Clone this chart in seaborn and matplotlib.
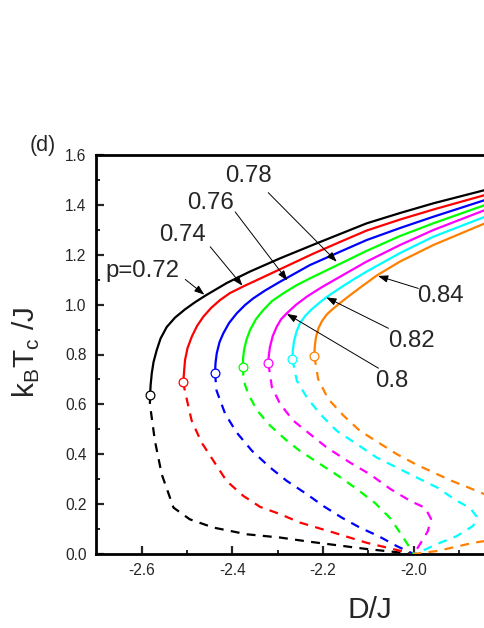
import matplotlib
matplotlib.use("Agg")
import matplotlib.pyplot as plt
import seaborn as sns
from matplotlib.patches import ArrowStyle

# ---------------- data ----------------
p_values = ["0.72", "0.74", "0.76", "0.78", "0.8", "0.82", "0.84"]
colors = ["#000000", "#FF0000", "#0000FF", "#00FF00", "#FF00FF", "#00FFFF", "#FF8000"]

# critical (open-circle) points
crit_D = [-2.5817, -2.5083, -2.4384, -2.3773, -2.3208, -2.2679, -2.2194]
crit_T = [0.6375, 0.6909, 0.7245, 0.7510, 0.7646, 0.7819, 0.7939]

# solid (upper) branches
s072_D = [-2.5817, -2.5804, -2.5779, -2.5740, -2.5669, -2.5585, -2.5449, -2.5266, -2.5045, -2.4825,
          -2.4604, -2.4126, -2.3612, -2.2950, -2.2141, -2.1039, -2.0304, -1.9570, -1.8430]
s072_T = [0.6375, 0.6776, 0.7245, 0.7698, 0.8180, 0.8641, 0.9102, 0.9479, 0.9811, 1.0096,
          1.0353, 1.0866, 1.1327, 1.1856, 1.2458, 1.3260, 1.3673, 1.4062, 1.4595]
s074_D = [-2.5083, -2.5067, -2.5045, -2.4990, -2.4897, -2.4781, -2.4642, -2.4472, -2.4273, -2.4053,
          -2.3760, -2.3391, -2.2950, -2.2216, -2.1627, -2.1039, -2.0304, -1.9570, -1.8430]
s074_T = [0.6909, 0.7298, 0.7779, 0.8260, 0.8713, 0.9142, 0.9515, 0.9864, 1.0184, 1.0465,
          1.0730, 1.1043, 1.1419, 1.2045, 1.2514, 1.2971, 1.3412, 1.3813, 1.4395]
s076_D = [-2.4384, -2.4373, -2.4346, -2.4284, -2.4201, -2.4075, -2.3905, -2.3722, -2.3539, -2.3281,
          -2.2950, -2.2289, -2.1627, -2.1039, -2.0304, -1.9570, -1.8430]
s076_T = [0.7245, 0.7658, 0.8047, 0.8500, 0.8849, 0.9262, 0.9651, 0.9984, 1.0253, 1.0565,
          1.0918, 1.1588, 1.2121, 1.2590, 1.3071, 1.3524, 1.4194]
s078_D = [-2.3773, -2.3764, -2.3744, -2.3689, -2.3612, -2.3480, -2.3319, -2.3127, -2.2878, -2.2598,
          -2.2289, -2.1627, -2.1039, -2.0304, -1.9570, -1.8430]
s078_T = [0.7510, 0.7859, 0.8180, 0.8601, 0.8982, 0.9423, 0.9783, 1.0144, 1.0453, 1.0766,
          1.1054, 1.1636, 1.2157, 1.2751, 1.3260, 1.3993]
s080_D = [-2.3208, -2.3197, -2.3171, -2.3111, -2.3023, -2.2928, -2.2803, -2.2598, -2.2362, -2.2024,
          -2.1627, -2.1039, -2.0304, -1.9570, -1.8430]
s080_T = [0.7646, 0.7979, 0.8312, 0.8741, 0.9114, 0.9411, 0.9651, 0.9992, 1.0317, 1.0706,
          1.1119, 1.1728, 1.2390, 1.2991, 1.3793]
s082_D = [-2.2679, -2.2668, -2.2642, -2.2586, -2.2509, -2.2388, -2.2245, -2.2090, -2.1921, -2.1627,
          -2.1341, -2.1039, -2.0304, -1.9570, -1.8430]
s082_T = [0.7819, 0.8180, 0.8541, 0.8921, 0.9262, 0.9563, 0.9824, 1.0064, 1.0305, 1.0666,
          1.0998, 1.1327, 1.2069, 1.2723, 1.3524]
s084_D = [-2.2194, -2.2183, -2.2157, -2.2101, -2.2024, -2.1921, -2.1782, -2.1627, -2.1407, -2.1142,
          -2.0818, -2.0304, -1.9570, -1.8430]
s084_T = [0.7939, 0.8340, 0.8701, 0.9062, 0.9342, 0.9603, 0.9832, 1.0064, 1.0377, 1.0738,
          1.1167, 1.1728, 1.2390, 1.3260]

# dashed (lower) branches
d072_D = [-2.5817, -2.582, -2.571, -2.556, -2.530, -2.494, -2.442, -2.368, -2.295, -2.229, -2.104, -2.000]
d072_T = [0.6375, 0.601, 0.454, 0.320, 0.186, 0.139, 0.106, 0.079, 0.066, 0.049, 0.020, 0.000]
d074_D = [-2.5083, -2.505, -2.490, -2.468, -2.442, -2.413, -2.376, -2.339, -2.295, -2.251, -2.177, -2.104, -2.000]
d074_T = [0.6909, 0.655, 0.535, 0.447, 0.374, 0.293, 0.233, 0.189, 0.160, 0.126, 0.086, 0.045, 0.000]
d076_D = [-2.4384, -2.435, -2.416, -2.391, -2.357, -2.317, -2.280, -2.236, -2.200, -2.159, -2.119, -2.078, -2.038, -2.000]
d076_T = [0.7245, 0.655, 0.562, 0.488, 0.414, 0.347, 0.293, 0.240, 0.193, 0.146, 0.106, 0.072, 0.032, 0.000]
d078_D = [-2.3773, -2.3760, -2.3722, -2.3649, -2.3464, -2.3171, -2.2803, -2.2509, -2.2068, -2.1627,
          -2.1259, -2.0855, -2.0525, -2.0267, -2.000]
d078_T = [0.7510, 0.7177, 0.6776, 0.6415, 0.5774, 0.5152, 0.4551, 0.4130, 0.3609, 0.3087,
          0.2606, 0.2045, 0.1443, 0.0762, 0.000]
d080_D = [-2.3208, -2.313, -2.295, -2.266, -2.229, -2.192, -2.141, -2.097, -2.052, -2.008, -1.975, -1.962, -1.969, -1.982, -2.000]
d080_T = [0.7646, 0.669, 0.602, 0.535, 0.481, 0.427, 0.367, 0.320, 0.261, 0.213, 0.185, 0.141, 0.092, 0.052, 0.000]
d082_D = [-2.2679, -2.258, -2.236, -2.207, -2.170, -2.126, -2.082, -2.038, -1.994, -1.949, -1.905, -1.876, -1.861, -1.869, -1.905, -1.949, -1.982, -2.000]
d082_T = [0.7819, 0.695, 0.628, 0.562, 0.494, 0.441, 0.387, 0.347, 0.307, 0.267, 0.213, 0.185, 0.149, 0.113, 0.072, 0.040, 0.012, 0.000]
d084_D = [-2.2194, -2.211, -2.189, -2.155, -2.119, -2.078, -2.038, -1.997, -1.957, -1.916, -1.876, -1.843, -1.800, -1.780, -1.790, -1.820, -1.843, -1.869, -1.909, -1.949, -2.000]
d084_T = [0.7939, 0.702, 0.622, 0.555, 0.494, 0.447, 0.401, 0.361, 0.327, 0.293, 0.264, 0.239, 0.200, 0.140, 0.090, 0.060, 0.052, 0.045, 0.028, 0.012, 0.000]

solid_D = [s072_D, s074_D, s076_D, s078_D, s080_D, s082_D, s084_D]
solid_T = [s072_T, s074_T, s076_T, s078_T, s080_T, s082_T, s084_T]
dash_D = [d072_D, d074_D, d076_D, d078_D, d080_D, d082_D, d084_D]
dash_T = [d072_T, d074_T, d076_T, d078_T, d080_T, d082_T, d084_T]

# labels: text, text position (baseline centre), arrow tail, arrow head
label_text = ["p=0.72", "0.74", "0.76", "0.78", "0.8", "0.82", "0.84"]
label_pos = [(-2.598, 1.112), (-2.511, 1.255), (-2.449, 1.383), (-2.365, 1.492),
             (-2.049, 0.671), (-2.005, 0.831), (-1.941, 1.012)]
arrow_tail = [(-2.504, 1.101), (-2.449, 1.232), (-2.394, 1.372), (-2.321, 1.449),
              (-2.078, 0.745), (-2.056, 0.905), (-1.990, 1.065)]
arrow_head = [(-2.462, 1.040), (-2.378, 1.076), (-2.279, 1.097), (-2.170, 1.172),
              (-2.280, 0.963), (-2.193, 1.029), (-2.079, 1.115)]

x_ticks = [-2.6, -2.4, -2.2, -2.0]
y_ticks = [0.0, 0.2, 0.4, 0.6, 0.8, 1.0, 1.2, 1.4, 1.6]

# ---------------- style ----------------
sns.set_style("ticks")
plt.rcParams["font.family"] = ["Liberation Sans", "DejaVu Sans"]
plt.rcParams["axes.unicode_minus"] = False
plt.rcParams["mathtext.fontset"] = "custom"
plt.rcParams["mathtext.rm"] = "Liberation Sans"

W, H = 485, 628
fig = plt.figure(figsize=(W / 100, H / 100), dpi=100)
left_px, right_px, top_px, bot_px = 96.4, 485, 155, 554
ax = fig.add_axes([left_px / W, 1 - bot_px / H, (right_px - left_px) / W, (bot_px - top_px) / H])

dash_style = (0, (4, 3.3))
for i in range(len(p_values)):
    sns.lineplot(x=solid_D[i], y=solid_T[i], sort=False, estimator=None,
                 color=colors[i], linewidth=1.6, ax=ax, zorder=3)
    sns.lineplot(x=dash_D[i], y=dash_T[i], sort=False, estimator=None,
                 color=colors[i], linewidth=1.6, linestyle=dash_style, ax=ax, zorder=3)
    sns.scatterplot(x=[crit_D[i]], y=[crit_T[i]], s=40, marker="o",
                    facecolor="white", edgecolor=colors[i], linewidth=0.9,
                    ax=ax, zorder=5)

astyle = ArrowStyle("-|>", head_length=0.6, head_width=0.22)
for txt, pos, tail, head in zip(label_text, label_pos, arrow_tail, arrow_head):
    ax.annotate("", xy=head, xytext=tail,
                arrowprops=dict(arrowstyle=astyle, color="black", lw=0.7,
                                shrinkA=0, shrinkB=0, mutation_scale=10),
                zorder=6)
    ax.text(pos[0], pos[1], txt, fontsize=17.3, ha="center", va="baseline", zorder=6)

ax.set_xlim(-2.7, -1.843)
ax.set_ylim(0.0, 1.6)
ax.set_xticks(x_ticks)
ax.set_xticklabels([f"{v:.1f}" for v in x_ticks])
ax.set_xticks([-2.5, -2.3, -2.1, -1.9], minor=True)
ax.set_yticks(y_ticks)
ax.set_yticklabels([f"{v:.1f}" for v in y_ticks])
ax.set_yticks([0.1, 0.3, 0.5, 0.7, 0.9, 1.1, 1.3, 1.5], minor=True)

ax.tick_params(which="major", direction="in", length=6, width=1.6, labelsize=11.2)
ax.tick_params(axis="x", which="major", pad=6.5)
ax.tick_params(axis="y", which="major", pad=7)
ax.tick_params(which="minor", direction="in", length=3, width=1.4)
ax.tick_params(top=False, right=False)

for side in ["left", "bottom", "top"]:
    ax.spines[side].set_linewidth(2.0)
    ax.spines[side].set_color("black")
ax.spines["right"].set_visible(False)
ax.set_xlabel("")
ax.set_ylabel("")

fig.text(26 / W, 1 - 352 / H, r"k$_\mathregular{B}$T$_\mathregular{c}$ /J",
         rotation=90, ha="center", va="center", fontsize=21.5)
fig.text(369.5 / W, 1 - 618 / H, "D/J", ha="center", va="baseline", fontsize=21.5)
fig.text(30 / W, 1 - 151 / H, "(d)", ha="left", va="baseline", fontsize=15.5)

fig.savefig("out.png", dpi=100)
